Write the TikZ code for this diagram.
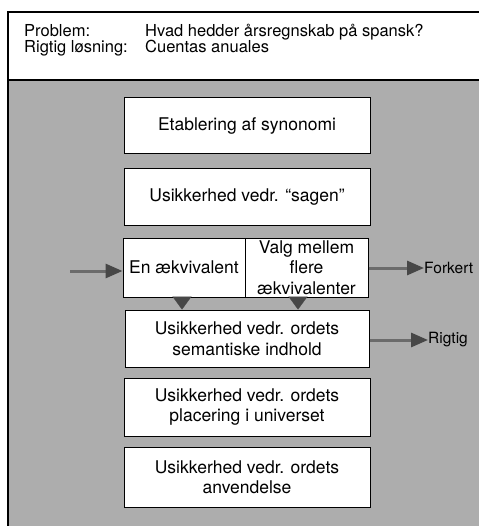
\documentclass[tikz,border=0pt]{standalone}
\usepackage{fontspec}
\setmainfont{TeX Gyre Heros}
\usetikzlibrary{arrows.meta, positioning}
\colorlet{screen}{black!32}
\colorlet{tipgray}{black!72}

\begin{document}
\begin{tikzpicture}[x=1pt, y=-1pt,
    stepbox/.style={draw, fill=white, line width=1pt, inner sep=0pt, align=center,
      minimum width=246pt, minimum height=57pt, font=\fontsize{17.5}{20.5}\selectfont},
    halfbox/.style={stepbox, minimum width=122pt, minimum height=59pt},
    headtext/.style={anchor=base west, inner sep=0pt, font=\fontsize{16.5}{19}\selectfont},
    flow/.style={draw=black!58, line width=3pt,
      -{Triangle[length=17pt, width=14pt, fill=tipgray, color=tipgray]}},
    drop/.style={draw=tipgray, line width=0.2pt,
      -{Triangle[length=13pt, width=19pt, fill=tipgray, color=tipgray]}},
    verdict/.style={font=\fontsize{15.5}{18}\selectfont, anchor=west, inner sep=0pt}]
    \useasboundingbox (0,0) rectangle (478,526);

    % header and screened field
    \fill[white] (8,12) rectangle (490,80);
    \fill[screen] (8,80) rectangle (490,526);
    \draw[line width=1.6pt] (490,12) -- (8,12) -- (8,526);
    \draw[line width=1.6pt] (8,80) -- (490,80);

    \node[headtext] (prob) at (24,37) {Problem:};
    \node[headtext] (probtxt) at (145,37) {Hvad hedder årsregnskab på spansk?};
    \node[headtext] (solv) at (24,53) {Rigtig løsning:};
    \node[headtext] (solvtxt) at (145,53) {Cuentas anuales};

    % steps
    \node[stepbox, minimum height=56pt] (syn) at (247,126) {Etablering af synonomi};
    \node[stepbox] (sag) at (247,197) {Usikkerhed vedr. “sagen”};
    \node[halfbox] (en) at (184,267.5) {En ækvivalent};
    \node[halfbox, minimum width=123pt] (valg) at (306.5,267.5) {Valg mellem\\flere\\ækvivalenter};
    \node[stepbox, minimum width=244pt] (sem) at (247,338.5) {Usikkerhed vedr. ordets\\semantiske indhold};
    \node[stepbox, minimum height=58pt] (plac) at (247,407) {Usikkerhed vedr. ordets\\placering i universet};
    \node[stepbox, minimum height=60pt] (anv) at (247,477) {Usikkerhed vedr. ordets\\anvendelse};

    \node[verdict] (wrong) at (424,268) {Forkert};
    \node[verdict] (right) at (428,340) {Rigtig};

    % arrows
    \coordinate (entry) at (70,271);
    \draw[flow] (entry) -- (entry -| en.west);
    \draw[flow] (valg.east |- wrong) -- (wrong.west);
    \draw[flow] (sem.east |- right) -- (right.west);
    \draw[drop] (182,297) coordinate (d1) -- (d1 |- sem.north);
    \draw[drop] (298,297) coordinate (d2) -- (d2 |- sem.north);
  \end{tikzpicture}
\end{document}
